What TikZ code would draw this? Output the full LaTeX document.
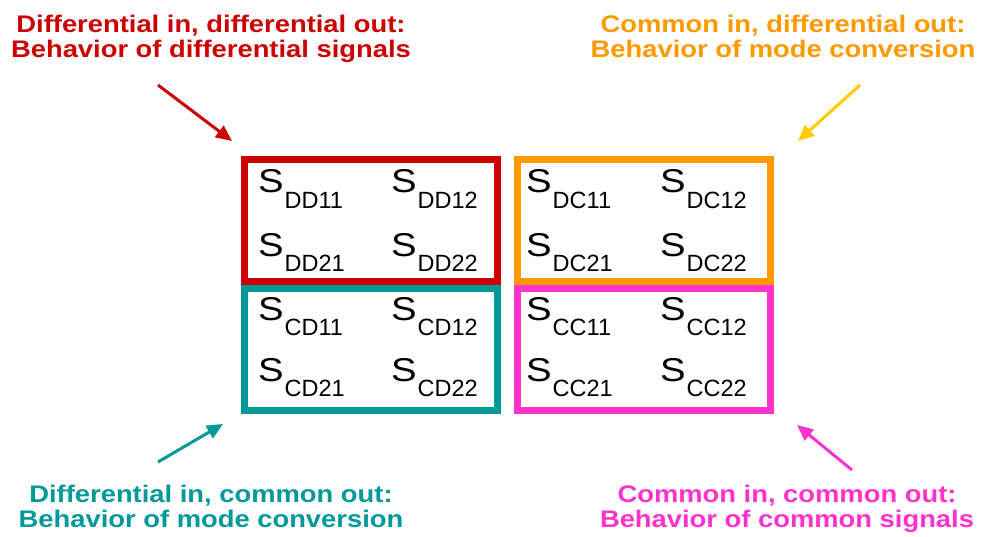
\documentclass[tikz,border=0pt]{standalone}
\usepackage{fontspec}
\setmainfont{Liberation Sans}
\usetikzlibrary{arrows.meta}

\definecolor{ddred}{RGB}{204,0,0}
\definecolor{dcorange}{RGB}{255,153,0}
\definecolor{dcyellow}{RGB}{255,204,0}
\definecolor{cdteal}{RGB}{0,153,153}
\definecolor{ccpink}{RGB}{255,51,204}

% mixed-mode S-parameter: large, slightly wide S with a lowered index
\newcommand{\sparam}[1]{\scalebox{1.16}[1]{\fontsize{33}{33}\selectfont S}\hspace{1pt}\raisebox{-15.5pt}{\fontsize{23.5}{23.5}\selectfont #1}}
% slightly widened caption line
\newcommand{\widen}[1]{\scalebox{1.14}[1]{#1}}

\begin{document}
\begin{tikzpicture}[x=1pt,y=-1pt,
  quad/.style={draw, line width=7pt, minimum width=253.5pt, minimum height=122pt, inner sep=0pt},
  entry/.style={anchor=base west, inner sep=0pt},
  caption/.style={font=\bfseries\fontsize{24}{25}\selectfont, align=center, anchor=north, inner sep=0pt},
  pointer/.style={line width=3pt, -{Triangle[length=16pt,width=14pt]}}]

\path[use as bounding box, fill=white] (0,0) rectangle (981,537);

% the four quadrants of the mixed-mode matrix
\node[quad, draw=ddred]    (dd) at (370.75,220.25) {};
\node[quad, draw=cdteal]   (cd) at (370.75,349)    {};
\node[quad, draw=dcorange] (dc) at (644,220.25)    {};
\node[quad, draw=ccpink]   (cc) at (644,349)       {};

% matrix entries
\node[entry] (dd11) at (258,193) {\sparam{DD11}};
\node[entry] (dd12) at (391,193) {\sparam{DD12}};
\node[entry] (dd21) at (258,256) {\sparam{DD21}};
\node[entry] (dd22) at (391,256) {\sparam{DD22}};

\node[entry] (cd11) at (258,320) {\sparam{CD11}};
\node[entry] (cd12) at (391,320) {\sparam{CD12}};
\node[entry] (cd21) at (258,381) {\sparam{CD21}};
\node[entry] (cd22) at (391,381) {\sparam{CD22}};

\node[entry] (dc11) at (526,193) {\sparam{DC11}};
\node[entry] (dc12) at (660,193) {\sparam{DC12}};
\node[entry] (dc21) at (526,256) {\sparam{DC21}};
\node[entry] (dc22) at (660,256) {\sparam{DC22}};

\node[entry] (cc11) at (526,320) {\sparam{CC11}};
\node[entry] (cc12) at (660,320) {\sparam{CC12}};
\node[entry] (cc21) at (526,381) {\sparam{CC21}};
\node[entry] (cc22) at (660,381) {\sparam{CC22}};

% captions
\node[caption, text=ddred] (capdd) at (211,14.5)
  {\widen{Differential in, differential out:}\\\widen{Behavior of differential signals}};
\node[caption, text=dcorange] (capdc) at (783,14.5)
  {\widen{Common in, differential out:}\\\widen{Behavior of mode conversion}};
\node[caption, text=cdteal] (capcd) at (211,485)
  {\widen{Differential in, common out:}\\\widen{Behavior of mode conversion}};
\node[caption, text=ccpink] (capcc) at (787,485)
  {\widen{Common in, common out:}\\\widen{Behavior of common signals}};

% pointer ends
\coordinate (ddfrom) at (158,85);  \coordinate (ddto) at (232,141);
\coordinate (dcfrom) at (860,85);  \coordinate (dcto) at (798,141);
\coordinate (cdfrom) at (158,462); \coordinate (cdto) at (223,424);
\coordinate (ccfrom) at (852,470); \coordinate (ccto) at (797,425);

\draw[pointer, ddred]    (ddfrom) -- (ddto);
\draw[pointer, dcyellow] (dcfrom) -- (dcto);
\draw[pointer, cdteal]   (cdfrom) -- (cdto);
\draw[pointer, ccpink]   (ccfrom) -- (ccto);
\end{tikzpicture}
\end{document}
